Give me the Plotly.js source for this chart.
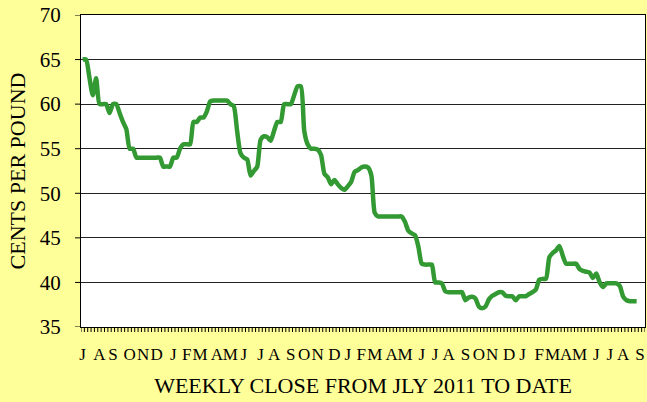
<!DOCTYPE html>
<html>
<head>
<meta charset="utf-8">
<script src="https://cdn.plot.ly/plotly-3.0.1.min.js"></script>
<style>html,body{margin:0;padding:0;background:#FFFF99;}#chart{width:647px;height:402px;}</style>
</head>
<body>
<div id="chart"></div>
<script>
// Weekly close, cents per pound, week index 0 = first week of July 2011
const prices = [
  65.0, 65.0, 63.0, 61.0, 62.9, 60.0, 60.0, 60.0, 59.0, 60.0,
  60.0, 59.0, 58.0, 57.2, 55.0, 55.0, 54.0, 54.0, 54.0, 54.0,
  54.0, 54.0, 54.0, 54.0, 53.0, 53.0, 53.0, 54.0, 54.0, 55.0,
  55.5, 55.5, 55.5, 58.0, 58.0, 58.5, 58.5, 59.2, 60.3, 60.4,
  60.4, 60.4, 60.4, 60.4, 60.0, 59.8, 57.0, 54.5, 54.0, 53.8,
  52.0, 52.5, 53.0, 56.0, 56.4, 56.3, 55.9, 57.0, 58.0, 58.0,
  60.0, 60.0, 60.0, 61.0, 62.0, 62.0, 57.0, 55.5, 55.0, 55.0,
  54.9, 54.3, 52.2, 51.8, 51.0, 51.5, 51.0, 50.6, 50.4, 50.8,
  51.3, 52.4, 52.6, 52.9, 53.0, 52.9, 52.0, 47.8, 47.4, 47.4,
  47.4, 47.4, 47.4, 47.4, 47.4, 47.4, 46.8, 45.8, 45.5, 45.3,
  44.0, 42.1, 42.0, 42.0, 42.0, 40.0, 40.0, 39.9, 39.0, 38.9,
  38.9, 38.9, 38.9, 38.9, 38.0, 38.3, 38.4, 38.2, 37.3, 37.1,
  37.3, 38.1, 38.5, 38.7, 38.9, 38.9, 38.5, 38.45, 38.45, 38.0,
  38.45, 38.45, 38.45, 38.7, 38.9, 39.2, 40.3, 40.4, 40.4, 42.8,
  43.3, 43.6, 44.1, 43.0, 42.1, 42.1, 42.1, 42.1, 41.5, 41.3,
  41.2, 41.1, 40.5, 41.0, 40.0, 39.5, 39.9, 39.9, 39.9, 39.9,
  39.6, 38.4, 38.0, 37.9, 37.9, 37.9
];
const weekCount = 168;
// first week of each month (index) and its letter
const monthWeeks = [0,5,9,14,18,22, 27,31,35,40,44,48,53,57,62,66,70,75,
  79,83,87,92,96,101,105,109,114,118,122,127, 131,136,140,144,148,153,157,161,166];
const monthLetters = ["J","A","S","O","N","D",
  "J","F","M","A","M","J","J","A","S","O","N","D",
  "J","F","M","A","M","J","J","A","S","O","N","D",
  "J","F","M","A","M","J","J","A","S"];
const yTicks = [35,40,45,50,55,60,65,70];

const weeks = prices.map((_, i) => i);

const trace = {
  x: weeks, y: prices, type: 'scatter', mode: 'lines',
  line: {color: '#339933', width: 4.5, shape: 'spline', smoothing: 0.6},
  hoverinfo: 'skip'
};

// tick marks drawn as axis-referenced short lines just outside the plot frame
const plotW = 647 - 81 - 2, plotH = 402 - 15 - 75;
const shapes = [];
for (let k = 0; k <= weekCount; k++) {
  shapes.push({type: 'line', xref: 'x', yref: 'paper', x0: k - 0.5, x1: k - 0.5,
    y0: 0, y1: -5 / plotH, line: {color: '#000', width: 1}, layer: 'above'});
}
yTicks.forEach(function (v) {
  shapes.push({type: 'line', xref: 'paper', yref: 'y', x0: 0, x1: -6 / plotW,
    y0: v, y1: v, line: {color: '#000', width: 1}, layer: 'above'});
});

const font = {family: '"Liberation Serif", "Times New Roman", serif', color: '#000'};

const layout = {
  width: 647, height: 402,
  paper_bgcolor: '#FFFF99', plot_bgcolor: '#FFFFFF',
  margin: {l: 81, r: 2, t: 15, b: 75},
  showlegend: false,
  shapes: shapes,
  xaxis: {
    range: [-0.5, weekCount - 0.5],
    tickmode: 'array', tickvals: monthWeeks, ticktext: monthLetters,
    ticks: '', tickangle: 0, showgrid: false, zeroline: false,
    ticklabelstandoff: 12,
    showline: true, linecolor: '#000', linewidth: 1, mirror: true,
    tickfont: Object.assign({size: 17}, font),
    title: {text: 'WEEKLY CLOSE FROM JLY 2011 TO DATE', font: Object.assign({size: 22}, font), standoff: 14},
    fixedrange: true
  },
  yaxis: {
    range: [35, 70],
    tickmode: 'array', tickvals: yTicks,
    ticks: '', ticklabelstandoff: 15,
    showgrid: true, gridcolor: '#222', gridwidth: 1, zeroline: false,
    showline: true, linecolor: '#000', linewidth: 1, mirror: true,
    tickfont: Object.assign({size: 21}, font),
    title: {text: 'CENTS PER POUND', font: Object.assign({size: 22}, font), standoff: 8},
    fixedrange: true
  }
};

Plotly.newPlot('chart', [trace], layout, {displayModeBar: false, staticPlot: true});
</script>
</body>
</html>
